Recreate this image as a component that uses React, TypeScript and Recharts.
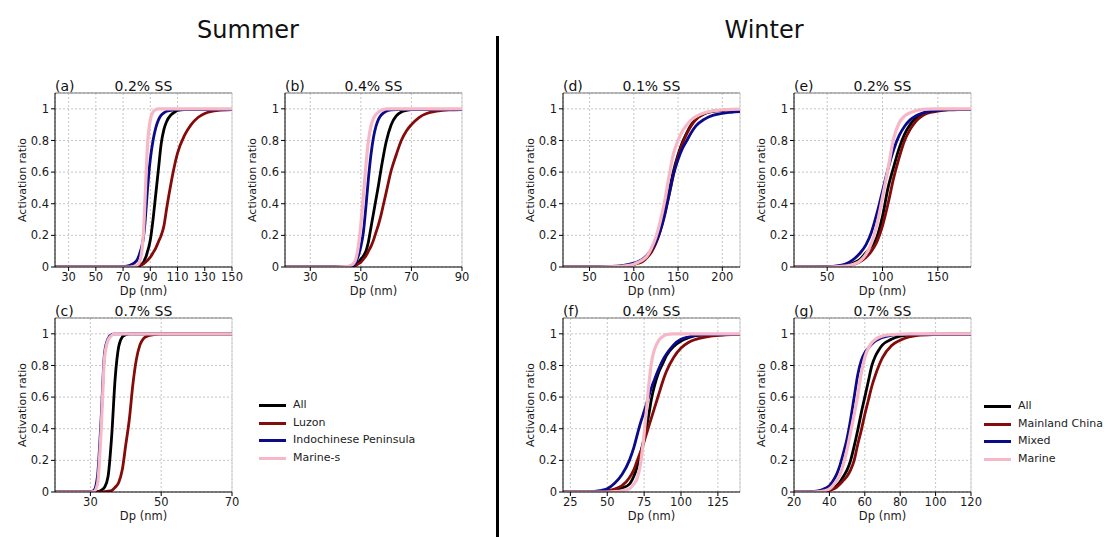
import { LineChart, Line, XAxis, YAxis, CartesianGrid, ReferenceLine } from "recharts";

// (a) Summer 0.2% SS
const A_DP = [20, 60, 70, 75, 80, 82, 84, 85, 86, 87, 88, 89, 90, 92, 94, 96, 98, 100, 102, 105, 108, 110, 115, 120, 125, 130, 140, 150];
const A_ALL = [0, 0, 0, 0.002, 0.005, 0.01, 0.02, 0.03, 0.05, 0.07, 0.1, 0.13, 0.17, 0.3, 0.46, 0.62, 0.78, 0.87, 0.92, 0.96, 0.98, 0.99, 0.995, 0.995, 0.995, 0.995, 0.995, 0.995];
const A_LUZ = [0, 0, 0, 0, 0.003, 0.007, 0.015, 0.02, 0.027, 0.035, 0.043, 0.052, 0.062, 0.09, 0.12, 0.16, 0.2, 0.26, 0.37, 0.52, 0.65, 0.72, 0.83, 0.9, 0.945, 0.97, 0.99, 0.995];
const A_IND = [0, 0, 0.003, 0.01, 0.04, 0.08, 0.14, 0.19, 0.27, 0.38, 0.5, 0.6, 0.68, 0.8, 0.88, 0.93, 0.96, 0.975, 0.985, 0.99, 0.995, 0.995, 0.995, 0.995, 0.995, 0.995, 0.995, 0.995];
const A_MAR = [0, 0, 0, 0, 0.01, 0.03, 0.12, 0.22, 0.4, 0.6, 0.78, 0.87, 0.93, 0.98, 0.995, 1, 1, 1, 1, 1, 1, 1, 1, 1, 1, 1, 1, 1];

// (b) Summer 0.4% SS
const B_DP = [20, 40, 44, 46, 47, 48, 49, 50, 51, 52, 53, 54, 55, 56, 57, 58, 59, 60, 62, 64, 66, 68, 70, 73, 76, 80, 85, 90];
const B_ALL = [0, 0, 0, 0.003, 0.01, 0.02, 0.03, 0.05, 0.07, 0.1, 0.16, 0.25, 0.34, 0.43, 0.52, 0.62, 0.71, 0.79, 0.9, 0.955, 0.98, 0.99, 0.995, 0.995, 0.995, 0.995, 0.995, 0.995];
const B_LUZ = [0, 0, 0, 0.002, 0.005, 0.01, 0.02, 0.03, 0.05, 0.07, 0.1, 0.13, 0.17, 0.22, 0.27, 0.33, 0.4, 0.47, 0.61, 0.71, 0.8, 0.86, 0.9, 0.945, 0.97, 0.985, 0.993, 0.995];
const B_IND = [0, 0, 0.002, 0.005, 0.01, 0.03, 0.07, 0.13, 0.22, 0.38, 0.56, 0.71, 0.82, 0.89, 0.935, 0.96, 0.975, 0.985, 0.993, 0.995, 0.995, 0.995, 0.995, 0.995, 0.995, 0.995, 0.995, 0.995];
const B_MAR = [0, 0, 0.002, 0.01, 0.02, 0.05, 0.13, 0.27, 0.45, 0.64, 0.8, 0.89, 0.94, 0.965, 0.98, 0.99, 0.995, 1, 1, 1, 1, 1, 1, 1, 1, 1, 1, 1];

// (c) Summer 0.7% SS
const C_DP = [20, 30, 31, 32, 33, 34, 35, 36, 37, 38, 39, 40, 41, 42, 43, 44, 45, 46, 48, 50, 60, 70];
const C_ALL = [0, 0, 0, 0.002, 0.01, 0.03, 0.1, 0.35, 0.72, 0.92, 0.98, 0.995, 1, 1, 1, 1, 1, 1, 1, 1, 1, 1];
const C_LUZ = [0, 0, 0, 0, 0, 0.002, 0.005, 0.01, 0.03, 0.06, 0.14, 0.3, 0.46, 0.68, 0.84, 0.93, 0.97, 0.985, 0.995, 1, 1, 1];
const C_IND = [0, 0, 0.01, 0.1, 0.45, 0.88, 0.97, 0.995, 1, 1, 1, 1, 1, 1, 1, 1, 1, 1, 1, 1, 1, 1];
const C_MAR = [0, 0, 0.003, 0.05, 0.38, 0.85, 0.96, 0.99, 1, 1, 1, 1, 1, 1, 1, 1, 1, 1, 1, 1, 1, 1];

// (d) Winter 0.1% SS
const D_DP = [20, 60, 80, 90, 100, 105, 110, 115, 120, 125, 130, 135, 140, 145, 150, 155, 160, 165, 170, 180, 190, 200, 210, 220];
const D_ALL = [0, 0.001, 0.003, 0.008, 0.018, 0.028, 0.04, 0.065, 0.1, 0.16, 0.24, 0.35, 0.48, 0.61, 0.71, 0.79, 0.85, 0.9, 0.935, 0.97, 0.985, 0.99, 0.993, 0.995];
const D_MC = [0, 0.001, 0.003, 0.007, 0.015, 0.024, 0.035, 0.06, 0.095, 0.15, 0.23, 0.34, 0.46, 0.59, 0.7, 0.78, 0.845, 0.895, 0.93, 0.97, 0.985, 0.99, 0.993, 0.995];
const D_MIX = [0, 0.001, 0.005, 0.012, 0.025, 0.035, 0.05, 0.075, 0.11, 0.16, 0.23, 0.33, 0.46, 0.59, 0.68, 0.75, 0.8, 0.85, 0.89, 0.935, 0.96, 0.972, 0.978, 0.982];
const D_MAR = [0, 0, 0.003, 0.008, 0.018, 0.03, 0.045, 0.07, 0.12, 0.19, 0.29, 0.42, 0.58, 0.72, 0.8, 0.86, 0.9, 0.93, 0.95, 0.975, 0.988, 0.994, 0.997, 0.998];

// (e) Winter 0.2% SS
const E_DP = [20, 50, 60, 70, 75, 80, 85, 90, 95, 100, 105, 110, 115, 120, 125, 130, 135, 140, 150, 160, 170, 180];
const E_ALL = [0, 0.001, 0.004, 0.015, 0.03, 0.05, 0.09, 0.13, 0.19, 0.32, 0.5, 0.63, 0.75, 0.84, 0.9, 0.94, 0.96, 0.975, 0.99, 0.995, 0.997, 0.997];
const E_MC = [0, 0.001, 0.003, 0.01, 0.02, 0.035, 0.06, 0.1, 0.16, 0.26, 0.4, 0.56, 0.69, 0.8, 0.87, 0.92, 0.95, 0.97, 0.985, 0.993, 0.996, 0.997];
const E_MIX = [0, 0.002, 0.008, 0.03, 0.055, 0.09, 0.14, 0.22, 0.34, 0.48, 0.62, 0.74, 0.83, 0.89, 0.93, 0.955, 0.97, 0.98, 0.99, 0.995, 0.997, 0.997];
const E_MAR = [0, 0, 0.002, 0.01, 0.02, 0.04, 0.08, 0.15, 0.27, 0.44, 0.62, 0.81, 0.91, 0.955, 0.975, 0.988, 0.995, 0.998, 1, 1, 1, 1];

// (f) Winter 0.4% SS
const F_DP = [20, 40, 45, 50, 55, 60, 65, 68, 70, 72, 74, 76, 78, 80, 82, 85, 88, 90, 95, 100, 105, 110, 120, 130, 140];
const F_ALL = [0, 0, 0.002, 0.005, 0.012, 0.025, 0.05, 0.1, 0.15, 0.22, 0.3, 0.38, 0.48, 0.59, 0.67, 0.76, 0.82, 0.86, 0.92, 0.955, 0.975, 0.988, 0.995, 0.997, 0.997];
const F_MC = [0, 0, 0.003, 0.008, 0.018, 0.04, 0.09, 0.14, 0.19, 0.24, 0.29, 0.35, 0.41, 0.47, 0.53, 0.62, 0.71, 0.76, 0.85, 0.91, 0.945, 0.965, 0.985, 0.993, 0.996];
const F_MIX = [0, 0.003, 0.008, 0.02, 0.055, 0.11, 0.2, 0.28, 0.35, 0.42, 0.48, 0.54, 0.6, 0.66, 0.71, 0.78, 0.84, 0.87, 0.93, 0.965, 0.98, 0.99, 0.995, 0.997, 0.997];
const F_MAR = [0, 0, 0, 0, 0.002, 0.008, 0.02, 0.05, 0.08, 0.15, 0.28, 0.46, 0.66, 0.82, 0.9, 0.96, 0.985, 0.995, 1, 1, 1, 1, 1, 1, 1];

// (g) Winter 0.7% SS
const G_DP = [20, 30, 35, 38, 40, 42, 44, 46, 48, 50, 52, 54, 56, 58, 60, 62, 64, 66, 68, 70, 75, 80, 85, 90, 100, 110, 120];
const G_ALL = [0, 0.001, 0.004, 0.008, 0.015, 0.025, 0.04, 0.065, 0.1, 0.14, 0.2, 0.29, 0.39, 0.5, 0.6, 0.7, 0.8, 0.86, 0.9, 0.93, 0.965, 0.985, 0.993, 0.996, 0.998, 0.998, 0.998];
const G_MC = [0, 0.001, 0.003, 0.006, 0.01, 0.018, 0.03, 0.05, 0.075, 0.1, 0.14, 0.2, 0.3, 0.39, 0.49, 0.58, 0.67, 0.74, 0.8, 0.85, 0.925, 0.96, 0.98, 0.99, 0.996, 0.998, 0.998];
const G_MIX = [0, 0.002, 0.01, 0.025, 0.04, 0.07, 0.11, 0.17, 0.25, 0.34, 0.46, 0.6, 0.74, 0.83, 0.88, 0.91, 0.935, 0.955, 0.968, 0.977, 0.99, 0.995, 0.997, 0.997, 0.997, 0.997, 0.997];
const G_MAR = [0, 0, 0.003, 0.01, 0.02, 0.04, 0.07, 0.11, 0.18, 0.27, 0.38, 0.49, 0.61, 0.75, 0.85, 0.91, 0.945, 0.965, 0.978, 0.986, 0.995, 0.998, 1, 1, 1, 1, 1];

const Y_TICKS = [0, 0.2, 0.4, 0.6, 0.8, 1];
const SUMMER_NAMES = ["All", "Luzon", "Indochinese Peninsula", "Marine-s"];
const WINTER_NAMES = ["All", "Mainland China", "Mixed", "Marine"];

const COLORS = ["#000000", "#850a0a", "#0a0a8a", "#f6b8c6"];
const WIDTHS = [2.8, 2.8, 2.8, 3.2];
const FONT = "'DejaVu Sans', sans-serif";

const PLOT_W = 177;
const PLOT_H = 174;
const Y_AXIS_W = 50;
const TOP = 30;
const RIGHT = 12;
const X_AXIS_H = 36;

interface PanelProps {
	left: number;
	top: number;
	tag: string;
	title: string;
	dp: number[];
	series: number[][];
	domain: [number, number];
	ticks: number[];
}

function Panel({ left, top, tag, title, dp, series, domain, ticks }: PanelProps) {
	const rows = dp.map((d, i) => ({ dp: d, s0: series[0][i], s1: series[1][i], s2: series[2][i], s3: series[3][i] }));
	return (
		<>
			<div style={{ position: "absolute", left, top: top - 14, fontSize: 14, lineHeight: "14px", color: "#111", fontFamily: FONT }}>
				{tag}
			</div>
			<div
				style={{
					position: "absolute",
					left,
					width: PLOT_W,
					top: top - 14,
					textAlign: "center",
					fontSize: 14,
					lineHeight: "14px",
					color: "#111",
					fontFamily: FONT,
				}}
			>
				{title}
			</div>
			<div style={{ position: "absolute", left: left - Y_AXIS_W, top: top - TOP }}>
				<LineChart
					width={Y_AXIS_W + PLOT_W + RIGHT}
					height={TOP + PLOT_H + X_AXIS_H}
					data={rows}
					margin={{ top: TOP, right: RIGHT, left: 0, bottom: 0 }}
					style={{ fontFamily: FONT }}
				>
					<CartesianGrid stroke="#b8b8b8" strokeDasharray="2 2" strokeWidth={0.8} />
					<XAxis
						dataKey="dp"
						type="number"
						domain={domain}
						ticks={ticks}
						allowDataOverflow
						height={X_AXIS_H}
						tickSize={4}
						tick={{ fontSize: 11.5, fill: "#1a1a1a" }}
						stroke="#000"
						label={{ value: "Dp (nm)", position: "insideBottom", offset: 8, fontSize: 11.5, fill: "#1a1a1a" }}
					/>
					<YAxis
						type="number"
						domain={[0, 1.1]}
						ticks={Y_TICKS}
						allowDataOverflow
						width={Y_AXIS_W}
						tickSize={4}
						tick={{ fontSize: 11.5, fill: "#1a1a1a" }}
						stroke="#000"
						label={{
							value: "Activation ratio",
							angle: -90,
							position: "insideLeft",
							offset: 17,
							fontSize: 11,
							fill: "#1a1a1a",
							style: { textAnchor: "middle" },
						}}
					/>
					<ReferenceLine y={1.1} stroke="#7a7a7a" strokeWidth={1.2} />
					<ReferenceLine x={domain[1]} stroke="#d0d0d0" strokeWidth={1} />
					{[0, 1, 2, 3].map((k) => (
						<Line
							key={k}
							dataKey={`s${k}`}
							type="monotone"
							stroke={COLORS[k]}
							strokeWidth={WIDTHS[k]}
							dot={false}
							activeDot={false}
							isAnimationActive={false}
						/>
					))}
				</LineChart>
			</div>
		</>
	);
}

function LegendBox({ left, top, names }: { left: number; top: number; names: string[] }) {
	return (
		<div style={{ position: "absolute", left, top, fontFamily: FONT, fontSize: 11, color: "#222" }}>
			{names.map((n, i) => (
				<div key={n} style={{ position: "absolute", left: 0, top: i * 17.6, height: 14, width: 200, whiteSpace: "nowrap" }}>
					<div style={{ position: "absolute", left: 0, top: 6, width: 27, height: 3, background: COLORS[i] }} />
					<div style={{ position: "absolute", left: 34, top: 0, lineHeight: "14px" }}>{n}</div>
				</div>
			))}
		</div>
	);
}

export default function App() {
	return (
		<div style={{ position: "absolute", left: 0, top: 0, width: 1110, height: 537, background: "#fff", fontFamily: FONT, overflow: "hidden" }}>
			<div style={{ position: "absolute", left: 148, width: 200, top: 18, textAlign: "center", fontSize: 24, lineHeight: "24px", color: "#111" }}>
				Summer
			</div>
			<div style={{ position: "absolute", left: 664, width: 200, top: 18, textAlign: "center", fontSize: 24, lineHeight: "24px", color: "#111" }}>
				Winter
			</div>
			<div style={{ position: "absolute", left: 496, top: 36, width: 3, height: 501, background: "#000" }} />

			<Panel left={55} top={93} tag="(a)" title="0.2% SS" dp={A_DP} series={[A_ALL, A_LUZ, A_IND, A_MAR]} domain={[20, 150]} ticks={[30, 50, 70, 90, 110, 130, 150]} />
			<Panel left={285} top={93} tag="(b)" title="0.4% SS" dp={B_DP} series={[B_ALL, B_LUZ, B_IND, B_MAR]} domain={[20, 90]} ticks={[30, 50, 70, 90]} />
			<Panel left={55} top={318} tag="(c)" title="0.7% SS" dp={C_DP} series={[C_ALL, C_LUZ, C_IND, C_MAR]} domain={[20, 70]} ticks={[30, 50, 70]} />
			<Panel left={563} top={93} tag="(d)" title="0.1% SS" dp={D_DP} series={[D_ALL, D_MC, D_MIX, D_MAR]} domain={[20, 220]} ticks={[50, 100, 150, 200]} />
			<Panel left={794} top={93} tag="(e)" title="0.2% SS" dp={E_DP} series={[E_ALL, E_MC, E_MIX, E_MAR]} domain={[20, 180]} ticks={[50, 100, 150]} />
			<Panel left={563} top={318} tag="(f)" title="0.4% SS" dp={F_DP} series={[F_ALL, F_MC, F_MIX, F_MAR]} domain={[20, 140]} ticks={[25, 50, 75, 100, 125]} />
			<Panel left={794} top={318} tag="(g)" title="0.7% SS" dp={G_DP} series={[G_ALL, G_MC, G_MIX, G_MAR]} domain={[20, 120]} ticks={[20, 40, 60, 80, 100, 120]} />

			<LegendBox left={259} top={398} names={SUMMER_NAMES} />
			<LegendBox left={984} top={399} names={WINTER_NAMES} />
		</div>
	);
}
